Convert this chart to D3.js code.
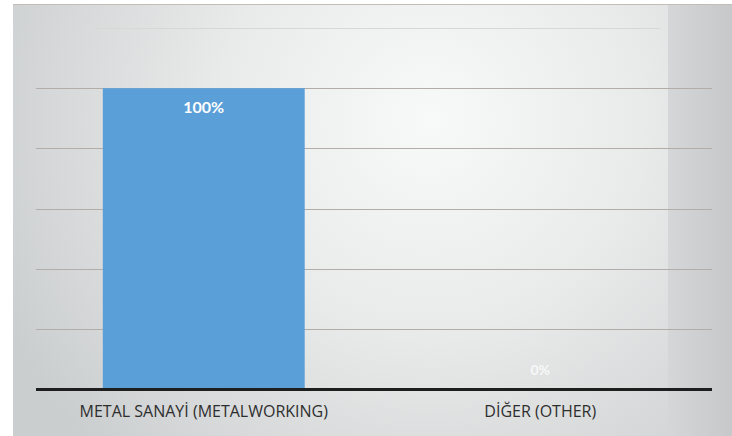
<!DOCTYPE html>
<html><head><meta charset="utf-8">
<script src="https://cdn.jsdelivr.net/npm/d3@7"></script>
<style>html,body{margin:0;padding:0;background:#fff;}svg{display:block;}</style>
</head><body>
<script>
const categories = ["METAL SANAYİ (METALWORKING)", "DİĞER (OTHER)"];
const values = [100, 0];
const valueLabels = ["100%", "0%"];
const yTicks = [0, 20, 40, 60, 80, 100, 120];

const W = 732, H = 436;
const svg = d3.select("body").append("svg").attr("width", W).attr("height", H);
const defs = svg.append("defs");
const rg = defs.append("radialGradient").attr("id","bg").attr("gradientUnits","userSpaceOnUse")
  .attr("cx",430).attr("cy",120).attr("r",470);
rg.append("stop").attr("offset","0").attr("stop-color","#f8f9f9");
rg.append("stop").attr("offset","0.45").attr("stop-color","#e9eaea");
rg.append("stop").attr("offset","1").attr("stop-color","#cbcecf");
const rg2 = defs.append("linearGradient").attr("id","side").attr("x1",0).attr("x2",1).attr("y1",0).attr("y2",0);
rg2.append("stop").attr("offset","0").attr("stop-color","#d4d6d7");
rg2.append("stop").attr("offset","1").attr("stop-color","#c6c8c9");

svg.append("rect").attr("x",13).attr("y",4).attr("width",W-13).attr("height",H-4).attr("fill","url(#bg)");
svg.append("rect").attr("x",668).attr("y",4).attr("width",W-668).attr("height",H-4).attr("fill","url(#side)");
svg.append("line").attr("x1",13).attr("x2",W).attr("y1",4.5).attr("y2",4.5).attr("stroke","#c4bcb7").attr("stroke-width",1);

const x = d3.scaleBand().domain(categories).range([35.5, 708.5]).paddingInner(0.4).paddingOuter(0.2);
const y = d3.scaleLinear().domain([0, 120]).range([389, 28]);

// gridlines
svg.append("g").selectAll("line").data(yTicks.filter(d => d > 0)).join("line")
  .attr("x1", d => d === 120 ? 95 : 36).attr("x2", d => d === 120 ? 660 : 712)
  .attr("y1", d => Math.round(y(d)) + 0.5).attr("y2", d => Math.round(y(d)) + 0.5)
  .attr("stroke", d => d === 120 ? "#d9d6d4" : "#b3adaa").attr("stroke-width", 1.2);

// bars
svg.append("g").selectAll("rect").data(values).join("rect")
  .attr("x", (d,i) => x(categories[i])).attr("width", x.bandwidth())
  .attr("y", d => y(d)).attr("height", d => y(0) - y(d))
  .attr("fill", "#5a9fd8");

// baseline
svg.append("line").attr("x1",36).attr("x2",712).attr("y1",y(0)+0.5).attr("y2",y(0)+0.5)
  .attr("stroke","#1e1e1e").attr("stroke-width",3);

// value labels
svg.append("g").selectAll("text").data(values).join("text")
  .attr("x", (d,i) => x(categories[i]) + x.bandwidth()/2)
  .attr("y", d => d > 0 ? y(d) + 25 : y(d) - 14)
  .attr("text-anchor","middle")
  .attr("font-family","Lato, 'Open Sans', sans-serif").attr("font-weight","bold")
  .attr("font-size", d => d > 0 ? 16 : 14)
  .attr("fill", "#ffffff").attr("fill-opacity", d => d > 0 ? 1 : 0.75)
  .text((d,i) => valueLabels[i]);

// category labels
const xAxis = d3.axisBottom(x).tickSize(0).tickPadding(0);
const ax = svg.append("g").attr("transform", `translate(0,${y(0)})`).call(xAxis);
ax.select(".domain").remove();
ax.selectAll("text").attr("dy", null).attr("y", 28)
  .attr("font-family","'Open Sans', sans-serif").attr("font-size", 16)
  .attr("fill","#2e2e2e");
</script>
</body></html>
